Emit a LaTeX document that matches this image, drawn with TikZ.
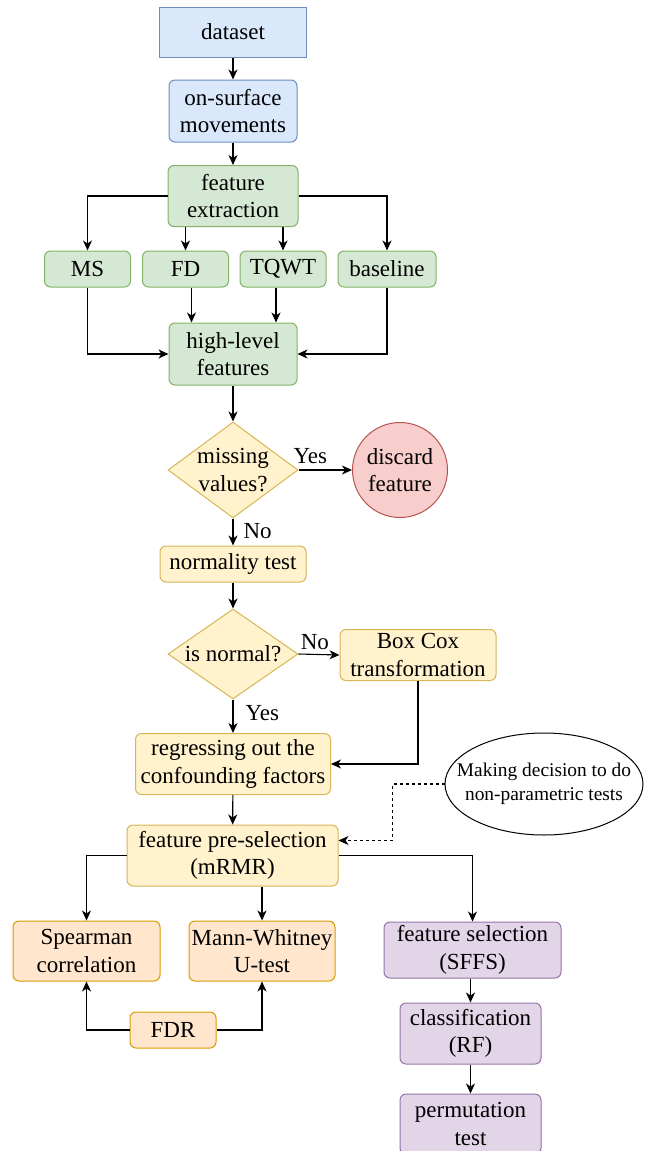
\documentclass[tikz,border=0pt]{standalone}
\usepackage{fontspec}
\setmainfont{Liberation Serif}
\usetikzlibrary{shapes.geometric,arrows.meta}
\definecolor{bfill}{HTML}{DAE8FC}\definecolor{bdraw}{HTML}{6C8EBF}
\definecolor{gfill}{HTML}{D5E8D4}\definecolor{gdraw}{HTML}{82B366}
\definecolor{yfill}{HTML}{FFF2CC}\definecolor{ydraw}{HTML}{D6B656}
\definecolor{rfill}{HTML}{F8CECC}\definecolor{rdraw}{HTML}{B85450}
\definecolor{ofill}{HTML}{FFE6CC}\definecolor{odraw}{HTML}{D79B00}
\definecolor{pfill}{HTML}{E1D5E7}\definecolor{pdraw}{HTML}{9673A6}
\tikzset{
  base/.style={font=\fontsize{23}{27.5}\selectfont, align=center, inner sep=0pt, line width=1pt},
  box/.style={base, rectangle, rounded corners=6pt},
  blue/.style={fill=bfill, draw=bdraw},
  green/.style={fill=gfill, draw=gdraw},
  yel/.style={fill=yfill, draw=ydraw},
  org/.style={fill=ofill, draw=odraw},
  pur/.style={fill=pfill, draw=pdraw},
  sz/.style 2 args={minimum width=#1pt, minimum height=#2pt},
  dia/.style={base, diamond, fill=yfill, draw=ydraw},
  arr/.style={-{Stealth[length=10pt,width=9pt,inset=3pt]}, line width=1.1pt},
  darr/.style={arr, dash pattern=on 3pt off 3pt},
  lbl/.style={font=\fontsize{23}{27.5}\selectfont, inner sep=0pt}
}
\begin{document}
\begin{tikzpicture}[x=1pt,y=-1pt]
\useasboundingbox (0,0) rectangle (645,1151);
% nodes
\node[base, rectangle, blue, sz={147}{50}] (ds) at (233,32) {dataset};
\node[box, blue, sz={128}{62}] (osm) at (233,111) {on-surface\\movements};
\node[box, green, sz={130}{61}] (fe) at (233,196) {feature\\extraction};
\node[box, green, sz={86}{36}] (ms) at (87.5,269) {MS};
\node[box, green, sz={86}{36}] (fd) at (185.5,269) {FD};
\node[box, green, sz={86}{36}] (tq) at (283,269) {TQWT};
\node[box, green, sz={98}{36}] (bl) at (387,269) {baseline};
\node[box, green, sz={128}{62}] (hlf) at (233,354) {high-level\\features};
\node[dia, sz={130}{96}] (mv) at (233,470) {};
\node[lbl, align=center] (mvt) at (mv) {missing\\values?};
\node[base, circle, fill=rfill, draw=rdraw, minimum size=95pt] (dc) at (400,470) {discard\\feature};
\node[box, yel, sz={146}{36}] (nt) at (233,564) {normality test};
\node[dia, sz={130}{90}] (isn) at (233,654) {};
\node[lbl] (isnt) at (isn) {is normal?};
\node[box, yel, sz={156}{51}] (bc) at (418,655) {Box Cox\\transformation};
\node[box, yel, sz={195}{61}] (reg) at (233,764) {regressing out the\\confounding factors};
\node[base, ellipse, draw=black, fill=white, sz={198}{102}] (note) at (544,784) {};
\node[lbl, align=center, font=\fontsize{19.4}{24}\selectfont] (notet) at (note) {Making decision to do\\non-parametric tests};
\node[box, yel, sz={211}{61}] (ps) at (232.5,855.5) {feature pre-selection\\(mRMR)};
\node[box, org, sz={147}{60}] (sp) at (86.5,951) {Spearman\\correlation};
\node[box, org, sz={146}{60}] (mw) at (262,951) {Mann-Whitney\\U-test};
\node[box, org, sz={86}{36}] (fdr) at (173,1030) {FDR};
\node[box, pur, sz={177}{56}] (fs) at (472.5,950) {feature selection\\(SFFS)};
\node[box, pur, sz={141}{61}] (cl) at (470.5,1033.5) {classification\\(RF)};
\node[box, pur, sz={141}{60}] (pt) at (470.5,1124) {permutation\\test};
% connectors
\draw[arr] (ds) -- (osm);
\draw[arr] (osm) -- (fe);
\draw[arr] (fe.west) -| (ms.north);
\draw[arr] (fd.north |- fe.south) -- (fd.north);
\draw[arr] (tq.north |- fe.south) -- (tq.north);
\draw[arr] (fe.east) -| (bl.north);
\draw[arr] (ms.south) |- (hlf.west);
\draw[arr] ([xshift=6pt]fd.south) -- ([xshift=6pt]fd.south |- hlf.north);
\draw[arr] ([xshift=-7pt]tq.south) -- ([xshift=-7pt]tq.south |- hlf.north);
\draw[arr] (bl.south) |- (hlf.east);
\draw[arr] (hlf) -- (mv.north);
\draw[arr] (mv.east) -- node[lbl, pos=0.22, above=6pt] (yes1) {Yes} (dc.west);
\draw[arr] (mv.south) -- node[lbl, pos=0.45, right=10pt] (no1) {No} (nt.north);
\draw[arr] (nt) -- (isn.north);
\draw[arr] (isn.east) -- node[lbl, pos=0.4, above=4pt] (no2) {No} (bc.west);
\draw[arr] (isn.south) -- node[lbl, pos=0.4, right=12pt] (yes2) {Yes} (reg.north);
\draw[arr] (bc.south) |- (reg.east);
\draw[arr] (reg) -- (ps);
\draw[darr] (note.west) -- ++(-52,0) |- ([yshift=15pt]ps.east);
\draw[arr] (ps.west) -| (sp.north);
\draw[arr] (mw.north |- ps.south) -- (mw.north);
\draw[arr] (ps.east) -| (fs.north);
\draw[arr] (fdr.west) -| (sp.south);
\draw[arr] (fdr.east) -| (mw.south);
\draw[arr] (cl.north |- fs.south) -- (cl.north);
\draw[arr] (cl) -- (pt);
\end{tikzpicture}
\end{document}
